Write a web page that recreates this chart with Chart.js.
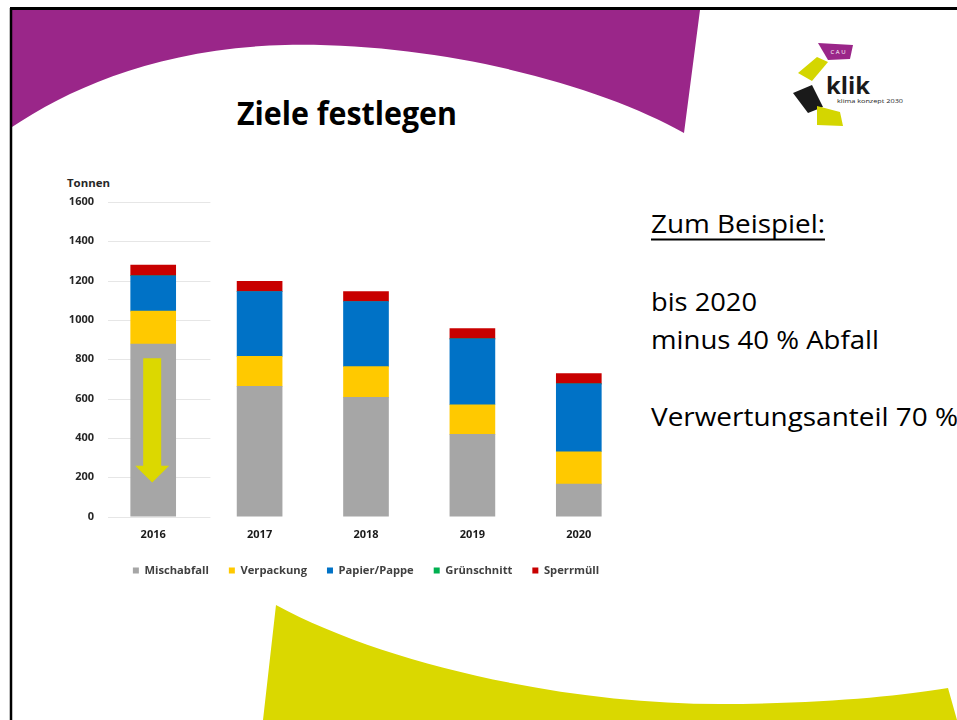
<!DOCTYPE html>
<html>
<head>
<meta charset="utf-8">
<script src="https://cdn.jsdelivr.net/npm/chart.js@4.4.0/dist/chart.umd.min.js"></script>
<style>
  html, body { margin: 0; padding: 0; background: #fff; }
  #slide { position: relative; width: 957px; height: 720px; overflow: hidden; background: #fff; }
  #bg { position: absolute; left: 0; top: 0; }
  #chartBox { position: absolute; left: 0; top: 170px; width: 640px; height: 430px; }
</style>
</head>
<body>
<div id="slide">
  <svg id="bg" width="957" height="720" xmlns="http://www.w3.org/2000/svg">
    <!-- purple band -->
    <path d="M12,10 L700,10 L684,133 C600,85 440,42 285,45 C160,48 70,88 12,127 Z" fill="#9a2689"/>
    <!-- yellow band -->
    <path d="M276,605 C380,662 560,704 720,704 C820,704 900,696 948,688 L957,720 L263,720 Z" fill="#dad800"/>
    <!-- frame -->
    <line x1="10" y1="8.5" x2="957" y2="8.5" stroke="#000" stroke-width="3"/>
    <line x1="11" y1="8" x2="11" y2="720" stroke="#000" stroke-width="2.5"/>

    <!-- logo -->
    <polygon points="818,43 853,45 850,59 828,60" fill="#9a2689"/>
    <text x="838" y="54" font-family="Open Sans" font-size="6" fill="#fff" text-anchor="middle">C A U</text>
    <polygon points="798,73 817,57 828,62 812,81" fill="#d4d600"/>
    <polygon points="793,93 812,85 823,107 808,113" fill="#1a1a1a"/>
    <polygon points="817,106 840,112 843,126 817,125" fill="#d4d600"/>
    <text x="826" y="94" font-family="Open Sans" font-weight="bold" font-size="23" fill="#1a1a1a" textLength="44" lengthAdjust="spacingAndGlyphs">klik</text>
    <text x="837" y="103" font-family="Open Sans" font-size="5.5" fill="#1a1a1a" textLength="66" lengthAdjust="spacingAndGlyphs">klima konzept 2030</text>

    <!-- title -->
    <text x="237" y="125" font-family="Open Sans" font-weight="bold" font-size="33" fill="#000" textLength="220" lengthAdjust="spacingAndGlyphs">Ziele festlegen</text>

    <!-- side text -->
    <text x="651" y="233" font-family="Open Sans" font-size="25" fill="#000" textLength="174" lengthAdjust="spacingAndGlyphs">Zum Beispiel:</text>
    <line x1="651" y1="239.5" x2="825" y2="239.5" stroke="#000" stroke-width="2"/>
    <text x="651" y="311" font-family="Open Sans" font-size="25" fill="#000" textLength="106" lengthAdjust="spacingAndGlyphs">bis 2020</text>
    <text x="651" y="349" font-family="Open Sans" font-size="25" fill="#000" textLength="228" lengthAdjust="spacingAndGlyphs">minus 40 % Abfall</text>
    <text x="651" y="426" font-family="Open Sans" font-size="25" fill="#000" textLength="307" lengthAdjust="spacingAndGlyphs">Verwertungsanteil 70 %</text>

    <!-- axis unit -->
    <text x="67" y="187" font-family="Open Sans" font-weight="bold" font-size="10.5" fill="#262626" textLength="43" lengthAdjust="spacingAndGlyphs">Tonnen</text>
  </svg>
  <div id="chartBox"><canvas id="wasteChart"></canvas></div>
</div>

<script>
// ── Abfallmengen 2016–2020 (Tonnen) ──

const years = ['2016', '2017', '2018', '2019', '2020'];
const mischabfall = [878, 662, 606, 418, 165];
const verpackung = [167, 153, 157, 151, 165];
const papierPappe = [180, 330, 331, 335, 345];
const gruenschnitt = [0, 0, 0, 0, 0];
const sperrmuell = [54, 51, 51, 52, 52];
const yMax = 1600;
const yStep = 200;

// arrow drawn over the 2016 bar: from, head start, tip (in Tonnen)
const arrowValues = [805, 258, 173];

Chart.defaults.font.family = "'Open Sans', 'Noto Sans', sans-serif";

const decor = {
  id: 'decor',
  beforeDatasetsDraw(chart) {
    const { ctx, scales: { x, y }, chartArea } = chart;
    const x0 = chartArea.left + 8;
    const x1 = (x.getPixelForValue(0) + x.getPixelForValue(1)) / 2 + 4;
    ctx.save();
    ctx.strokeStyle = '#e6e6e6';
    ctx.lineWidth = 1;
    y.ticks.forEach(t => {
      const py = Math.round(y.getPixelForValue(t.value)) + 0.5;
      ctx.beginPath();
      ctx.moveTo(x0, py);
      ctx.lineTo(x1, py);
      ctx.stroke();
    });
    ctx.restore();
  },
  afterDatasetsDraw(chart) {
    const { ctx, scales: { x, y } } = chart;
    const cx = x.getPixelForValue(0) - 1;
    const top = y.getPixelForValue(arrowValues[0]);
    const head = y.getPixelForValue(arrowValues[1]);
    const tip = y.getPixelForValue(arrowValues[2]);
    ctx.save();
    ctx.fillStyle = '#dcd800';
    ctx.beginPath();
    ctx.moveTo(cx - 9, top);
    ctx.lineTo(cx + 9, top);
    ctx.lineTo(cx + 9, head);
    ctx.lineTo(cx + 17, head);
    ctx.lineTo(cx, tip);
    ctx.lineTo(cx - 17, head);
    ctx.lineTo(cx - 9, head);
    ctx.closePath();
    ctx.fill();
    ctx.restore();
  }
};

new Chart(document.getElementById('wasteChart').getContext('2d'), {
  type: 'bar',
  data: {
    labels: years,
    datasets: [
      { label: 'Mischabfall', data: mischabfall, backgroundColor: '#a6a6a6' },
      { label: 'Verpackung', data: verpackung, backgroundColor: '#ffc900' },
      { label: 'Papier/Pappe', data: papierPappe, backgroundColor: '#0072c6' },
      { label: 'Grünschnitt', data: gruenschnitt, backgroundColor: '#00b050' },
      { label: 'Sperrmüll', data: sperrmuell, backgroundColor: '#c80000' }
    ]
  },
  options: {
    responsive: true,
    maintainAspectRatio: false,
    animation: false,
    datasets: { bar: { barThickness: 45, borderWidth: 0 } },
    layout: { padding: { top: 32, left: 0, right: 8, bottom: 14 } },
    plugins: {
      legend: {
        position: 'bottom',
        fullSize: false,
        labels: { boxWidth: 6, boxHeight: 6, padding: 20, color: '#404040', font: { size: 11.2, weight: 'bold' } }
      },
      tooltip: { enabled: false }
    },
    scales: {
      x: {
        stacked: true,
        grid: { display: false, drawTicks: false },
        border: { display: false },
        ticks: { padding: 12, color: '#1a1a1a', font: { size: 11, weight: 'bold' } },
        afterFit(s) { s.height -= 9; }
      },
      y: {
        stacked: true,
        min: 0,
        max: yMax,
        grid: { display: false, drawTicks: false },
        border: { display: false },
        ticks: { stepSize: yStep, padding: 6, color: '#262626', font: { size: 11, weight: 'bold' }, callback: v => String(v) },
        afterFit(s) { s.width = 100; }
      }
    }
  },
  plugins: [decor]
});
</script>
</body>
</html>
